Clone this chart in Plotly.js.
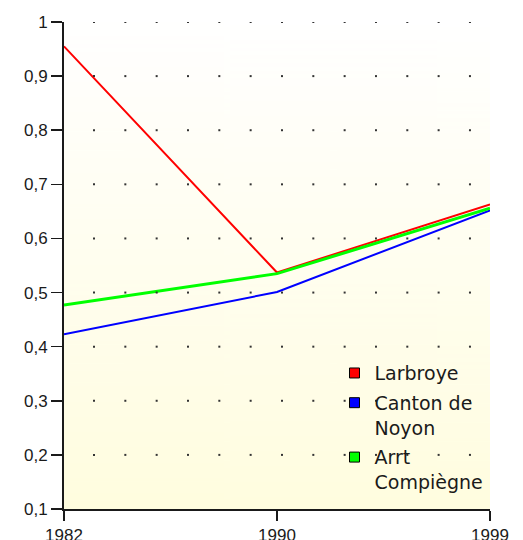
<!DOCTYPE html>
<html>
<head>
<meta charset="utf-8">
<script src="https://cdn.plot.ly/plotly-3.0.1.min.js"></script>
<style>
  html, body { margin: 0; padding: 0; background: #ffffff; }
  #chart { width: 523px; height: 540px; }
</style>
</head>
<body>
<div id="chart"></div>
<script>
// Years on the horizontal axis (evenly spaced categories)
const years = ['1982', '1990', '1999'];

// Series values
const larbroye = [0.955, 0.537, 0.663];
const cantonNoyon = [0.423, 0.501, 0.652];
const arrtCompiegne = [0.477, 0.535, 0.656];

// Legend labels
const seriesNames = ['Larbroye', 'Canton de<br>Noyon', 'Arrt<br>Compiègne'];
const seriesColors = ['#ff0000', '#0000ff', '#00ff00'];

// Vertical axis ticks
const yTicks = [0.1, 0.2, 0.3, 0.4, 0.5, 0.6, 0.7, 0.8, 0.9, 1];

// Plot area pixel box
const W = 523, H = 540;
const M = { l: 64, r: 33, t: 22, b: 31 };
const plotW = W - M.l - M.r;

// Vertical background gradient (white to pale cream)
function gradientImage() {
  const c = document.createElement('canvas');
  c.width = 4; c.height = 256;
  const g = c.getContext('2d');
  const grd = g.createLinearGradient(0, 0, 0, 256);
  grd.addColorStop(0, '#ffffff');
  grd.addColorStop(1, '#fffddf');
  g.fillStyle = grd;
  g.fillRect(0, 0, 4, 256);
  return c.toDataURL('image/png');
}

// Dotted background grid: a dot every ~31 px across, one row per y tick
const dotStep = 31.33, dotStart = 30;
const dotX = [], dotY = [];
for (const v of yTicks.slice(1)) {
  for (let p = dotStart; p < plotW - 5; p += dotStep) {
    dotX.push(p / plotW);
    dotY.push(v);
  }
}

const traces = [
  {
    x: dotX, y: dotY, xaxis: 'x2', yaxis: 'y',
    type: 'scatter', mode: 'markers', hoverinfo: 'skip', showlegend: false,
    marker: { symbol: 'square', size: 2, color: '#333333', line: { width: 0 } }
  },
  {
    x: years, y: larbroye, type: 'scatter', mode: 'lines', showlegend: false,
    line: { color: seriesColors[0], width: 2 }
  },
  {
    x: years, y: cantonNoyon, type: 'scatter', mode: 'lines', showlegend: false,
    line: { color: seriesColors[1], width: 2 }
  },
  {
    x: years, y: arrtCompiegne, type: 'scatter', mode: 'lines', showlegend: false,
    line: { color: seriesColors[2], width: 3 }
  }
];

// Legend entries drawn as coloured squares, one group each so they can be spaced apart
seriesNames.forEach((name, i) => {
  traces.push({
    x: [null], y: [null], type: 'scatter', mode: 'markers', name: name,
    legendgroup: 'g' + i,
    marker: { symbol: 'square', size: 10, color: seriesColors[i], line: { color: '#000000', width: 1 } }
  });
});

const font = { family: 'Liberation Sans, Arial, sans-serif', size: 17, color: '#1a1a1a' };
const legendFont = { family: 'DejaVu Sans, sans-serif', size: 19, color: '#1a1a1a' };

const layout = {
  width: W, height: H,
  margin: M,
  paper_bgcolor: '#ffffff',
  plot_bgcolor: 'rgba(0,0,0,0)',
  separators: ', ',
  font: font,
  showlegend: true,
  legend: {
    x: 0.635, xanchor: 'left', y: 0.318, yanchor: 'top',
    bgcolor: 'rgba(0,0,0,0)', borderwidth: 0,
    font: legendFont, traceorder: 'grouped', itemwidth: 30,
    valign: 'top', tracegroupgap: 2
  },
  xaxis: {
    type: 'category', range: [0, 2], fixedrange: true,
    showgrid: false, zeroline: false,
    showline: true, linecolor: '#1a1a1a', linewidth: 2,
    ticks: 'outside', ticklen: 10, tickwidth: 1.5, tickcolor: '#1a1a1a',
    tickfont: font
  },
  xaxis2: {
    overlaying: 'x', range: [0, 1], visible: false, fixedrange: true
  },
  yaxis: {
    range: [0.1, 1], fixedrange: true,
    tickvals: yTicks,
    showgrid: false, zeroline: false,
    showline: true, linecolor: '#1a1a1a', linewidth: 2,
    ticks: 'outside', ticklen: 11, tickwidth: 1.5, tickcolor: '#1a1a1a',
    tickfont: font
  },
  images: [{
    source: gradientImage(), xref: 'paper', yref: 'paper',
    x: 0, y: 1, sizex: 1, sizey: 1, sizing: 'stretch', layer: 'below'
  }]
};

Plotly.newPlot('chart', traces, layout, { staticPlot: true, displayModeBar: false });
</script>
</body>
</html>
